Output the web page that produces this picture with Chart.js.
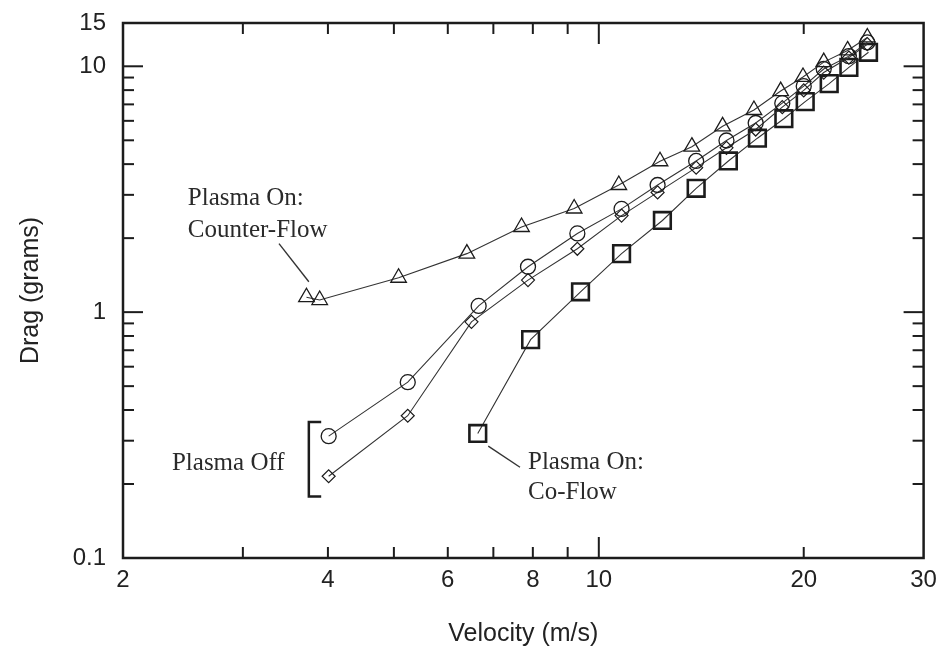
<!DOCTYPE html>
<html>
<head>
<meta charset="utf-8">
<script src="https://cdn.jsdelivr.net/npm/chart.js@4.4.0/dist/chart.umd.min.js"></script>
<style>
  html, body { margin: 0; padding: 0; background: #ffffff; }
  #wrap { width: 938px; height: 649px; }
</style>
</head>
<body>
<div id="wrap"><canvas id="c" width="938" height="649"></canvas></div>
<script>
// Drag versus free-stream velocity, log-log
const counterFlowVelocity = [3.72, 3.89, 5.08, 6.4, 7.7, 9.2, 10.7, 12.3, 13.7, 15.2, 16.9, 18.5, 19.95, 21.4, 23.2, 24.8];
const counterFlowDrag     = [1.15, 1.12, 1.38, 1.73, 2.22, 2.64, 3.29, 4.11, 4.71, 5.7, 6.64, 7.93, 9.05, 10.4, 11.6, 13.1];

const plasmaOffAVelocity = [4.01, 5.24, 6.66, 7.87, 9.3, 10.8, 12.2, 13.9, 15.4, 17.0, 18.6, 20.0, 21.4, 23.3, 24.8];
const plasmaOffADrag     = [0.313, 0.519, 1.06, 1.53, 2.09, 2.63, 3.29, 4.12, 4.99, 5.88, 7.08, 8.3, 9.75, 11.0, 12.5];

const plasmaOffBVelocity = [4.01, 5.24, 6.5, 7.87, 9.3, 10.8, 12.2, 13.9, 15.4, 17.0, 18.6, 20.0, 21.4, 23.3, 24.8];
const plasmaOffBDrag     = [0.215, 0.379, 0.913, 1.35, 1.81, 2.47, 3.07, 3.87, 4.66, 5.53, 6.82, 7.98, 9.43, 10.85, 12.3];

const coFlowVelocity = [6.64, 7.94, 9.4, 10.8, 12.4, 13.9, 15.5, 17.1, 18.7, 20.1, 21.8, 23.3, 24.9];
const coFlowDrag     = [0.321, 0.773, 1.21, 1.73, 2.36, 3.19, 4.12, 5.1, 6.12, 7.18, 8.5, 9.9, 11.4];

const xTickLabels = [2, 4, 6, 8, 10, 20, 30];
const yTickLabels = [0.1, 1, 10, 15];
const xMajorMarks = [10];
const xMinorMarks = [3, 4, 5, 6, 7, 8, 9, 20];
const yMajorMarks = [1, 10];
const yMinorMarks = [0.2, 0.3, 0.4, 0.5, 0.6, 0.7, 0.8, 0.9, 2, 3, 4, 5, 6, 7, 8, 9];

const pairs = (xs, ys) => xs.map((x, i) => ({ x: x, y: ys[i] }));

const INK = '#1c1c1c';
const LINE = '#333333';
const SERIF = '"Liberation Serif", "DejaVu Serif", serif';
const SANS = '"Liberation Sans", Arial, sans-serif';

function series(data, style, radius, width) {
  return {
    data: data,
    showLine: true,
    borderColor: LINE,
    borderWidth: 1.1,
    pointStyle: style,
    pointRadius: radius,
    pointBorderWidth: width,
    pointBorderColor: INK,
    pointBackgroundColor: 'rgba(0,0,0,0)'
  };
}

// Frame, inward tick marks and the callout notes
const decorations = {
  id: 'decorations',
  afterDraw(chart) {
    const { ctx, chartArea: a } = chart;
    const xs = chart.scales.x, ys = chart.scales.y;
    ctx.save();
    ctx.strokeStyle = INK;

    ctx.lineWidth = 2;
    const tick = (x1, y1, x2, y2) => { ctx.beginPath(); ctx.moveTo(x1, y1); ctx.lineTo(x2, y2); ctx.stroke(); };
    xMinorMarks.forEach(v => { const p = xs.getPixelForValue(v); tick(p, a.bottom, p, a.bottom - 11); tick(p, a.top, p, a.top + 11); });
    xMajorMarks.forEach(v => { const p = xs.getPixelForValue(v); tick(p, a.bottom, p, a.bottom - 21); tick(p, a.top, p, a.top + 21); });
    yMinorMarks.forEach(v => { const p = ys.getPixelForValue(v); tick(a.left, p, a.left + 11, p); tick(a.right, p, a.right - 11, p); });
    yMajorMarks.forEach(v => { const p = ys.getPixelForValue(v); tick(a.left, p, a.left + 20, p); tick(a.right, p, a.right - 20, p); });

    ctx.lineWidth = 2.5;
    ctx.strokeRect(a.left, a.top, a.right - a.left, a.bottom - a.top);

    const px = v => xs.getPixelForValue(v);
    const py = v => ys.getPixelForValue(v);

    // leader lines
    ctx.lineWidth = 1.4;
    ctx.strokeStyle = '#333';
    tick(px(3.39), py(1.90), px(3.75), py(1.33));
    tick(px(6.88), py(0.285), px(7.66), py(0.234));

    // bracket grouping the two plasma-off runs
    ctx.lineWidth = 2.5;
    ctx.strokeStyle = INK;
    ctx.beginPath();
    ctx.moveTo(px(3.91), py(0.357));
    ctx.lineTo(px(3.75), py(0.357));
    ctx.lineTo(px(3.75), py(0.178));
    ctx.lineTo(px(3.91), py(0.178));
    ctx.stroke();

    ctx.fillStyle = '#2a2a2a';
    ctx.font = '25px ' + SERIF;
    ctx.textAlign = 'left';
    ctx.textBaseline = 'alphabetic';
    ctx.fillText('Plasma On:', px(2.49), py(2.72));
    ctx.fillText('Counter-Flow', px(2.49), py(2.03));
    ctx.fillText('Plasma Off', px(2.36), py(0.229));
    ctx.fillText('Plasma On:', px(7.87), py(0.231));
    ctx.fillText('Co-Flow', px(7.87), py(0.173));
    ctx.restore();
  }
};

new Chart(document.getElementById('c'), {
  type: 'scatter',
  data: {
    datasets: [
      series(pairs(counterFlowVelocity, counterFlowDrag), 'triangle', 9, 1.3),
      series(pairs(plasmaOffAVelocity, plasmaOffADrag), 'circle', 7.5, 1.3),
      series(pairs(plasmaOffBVelocity, plasmaOffBDrag), 'rectRot', 6.5, 1.2),
      series(pairs(coFlowVelocity, coFlowDrag), 'rect', 11.8, 2.6)
    ]
  },
  options: {
    responsive: false,
    animation: false,
    devicePixelRatio: 1,
    layout: { padding: { left: 0, right: 12, top: 23, bottom: 0 } },
    plugins: { legend: { display: false }, tooltip: { enabled: false } },
    scales: {
      x: {
        type: 'logarithmic',
        min: 2,
        max: 30,
        afterBuildTicks: s => { s.ticks = xTickLabels.map(v => ({ value: v })); },
        afterFit: s => { s.height = 91; s.paddingLeft = 0; s.paddingRight = 0; },
        grid: { display: false, drawTicks: false },
        border: { display: false },
        ticks: {
          autoSkip: false, maxRotation: 0, padding: 8, color: '#222',
          font: { family: SANS, size: 24 },
          callback: v => String(v)
        },
        title: {
          display: true, text: 'Velocity (m/s)', color: '#222',
          font: { family: SANS, size: 25 }, padding: { top: 12, bottom: 0 }
        }
      },
      y: {
        type: 'logarithmic',
        min: 0.1,
        max: 15,
        afterBuildTicks: s => { s.ticks = yTickLabels.map(v => ({ value: v })); },
        afterFit: s => { s.width = 123; s.paddingTop = 0; s.paddingBottom = 0; },
        grid: { display: false, drawTicks: false },
        border: { display: false },
        ticks: {
          autoSkip: false, padding: 17, color: '#222',
          font: { family: SANS, size: 24 },
          callback: v => String(v)
        },
        title: {
          display: true, text: 'Drag (grams)', color: '#222',
          font: { family: SANS, size: 25 }, padding: { top: 16, bottom: 8 }
        }
      }
    }
  },
  plugins: [decorations]
});
</script>
</body>
</html>
